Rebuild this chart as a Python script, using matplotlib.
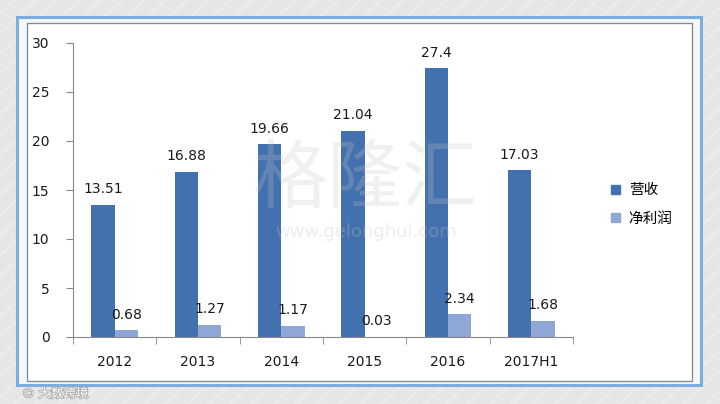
import matplotlib
matplotlib.use("Agg")
import matplotlib.pyplot as plt
from matplotlib.patches import Rectangle, Patch
import matplotlib.patheffects as pe
import numpy as np

plt.rcParams['font.family'] = ['DejaVu Sans', 'Noto Sans CJK SC']

# data
years = ['2012', '2013', '2014', '2015', '2016', '2017H1']
revenue = [13.51, 16.88, 19.66, 21.04, 27.4, 17.03]
profit = [0.68, 1.27, 1.17, 0.03, 2.34, 1.68]
series_names = ['营收', '净利润']
y_ticks = [0, 5, 10, 15, 20, 25, 30]

dark = '#4370AE'
light = '#8EA7D5'

W, H = 720, 404
fig = plt.figure(figsize=(7.2, 4.04), dpi=100)
fig.patch.set_facecolor('#e6e6e6')


def fx(px):
    return px / W


def fy(py):
    return 1 - py / H


# faint diagonal stripes in background
for k in np.arange(-1.0, 2.0, 0.03):
    fig.add_artist(plt.Line2D([k, k + 0.6], [0, 1], transform=fig.transFigure,
                              color='white', lw=2, alpha=0.22, zorder=0))

# blue outer frame and white panel with gray border
fig.add_artist(Rectangle((fx(17), fy(385)), fx(701) - fx(17), fy(17) - fy(385),
                         transform=fig.transFigure, facecolor='#f4f8fc',
                         edgecolor='#7aaee0', lw=2.2, zorder=1))
fig.add_artist(Rectangle((fx(27), fy(381)), fx(692) - fx(27), fy(23) - fy(381),
                         transform=fig.transFigure, facecolor='white',
                         edgecolor='#8c8c8c', lw=1.0, zorder=2))

ax = fig.add_axes([fx(73), fy(337), fx(573) - fx(73), fy(43) - fy(337)])
ax.set_zorder(3)
ax.patch.set_alpha(0)

x = np.arange(len(years))
bw = 0.28
b1 = ax.bar(x - 0.14, revenue, bw, color=dark, zorder=2)
b2 = ax.bar(x + 0.14, profit, bw, color=light, zorder=2)

for bars, vals in ((b1, revenue), (b2, profit)):
    for rect, v in zip(bars, vals):
        ax.annotate(f'{v:g}', (rect.get_x() + rect.get_width() / 2, v),
                    xytext=(0, 6), textcoords='offset points',
                    ha='center', va='bottom', fontsize=10, color='#1a1a1a')

ax.set_xlim(-0.5, len(years) - 0.5)
ax.set_ylim(0, 30)
ax.set_yticks(y_ticks)
ax.set_xticks(x)
ax.set_xticklabels(years)
ax.set_xticks(np.arange(-0.5, len(years)), minor=True)
ax.tick_params(axis='x', which='major', length=0, pad=13, labelsize=10,
               labelcolor='#1a1a1a')
ax.tick_params(axis='x', which='minor', length=5, color='#888888')
ax.tick_params(axis='y', length=5, color='#888888', pad=12, labelsize=10,
               labelcolor='#1a1a1a')
for s in ('top', 'right'):
    ax.spines[s].set_visible(False)
for s in ('left', 'bottom'):
    ax.spines[s].set_color('#888888')

handles = [Patch(color=dark), Patch(color=light)]
leg = ax.legend(handles, series_names, loc='center left',
                bbox_to_anchor=(fx(598 - 73) / (fx(573) - fx(73)), 0.45),
                frameon=False, handlelength=0.6, handleheight=0.6,
                handletextpad=0.6, labelspacing=1.0,
                prop={'family': 'Noto Sans CJK SC', 'size': 10.5})

# watermark
fig.text(fx(365), fy(180), '格隆汇', ha='center', va='center', fontsize=54,
         family='Noto Sans CJK SC', fontweight='light', color='#c4c4c4',
         alpha=0.25, zorder=5)
fig.text(fx(366), fy(232), 'www.gelonghui.com', ha='center', va='center',
         fontsize=13, color='#c4c4c4', alpha=0.3, zorder=5)
fig.text(fx(22), fy(394), '© 大数跨境', ha='left', va='center', fontsize=9,
         family=['DejaVu Sans', 'Noto Sans CJK SC'], color='white', zorder=5,
         path_effects=[pe.withStroke(linewidth=1.2, foreground='#aaaaaa')])

fig.savefig('out.png', dpi=100, facecolor=fig.get_facecolor())
